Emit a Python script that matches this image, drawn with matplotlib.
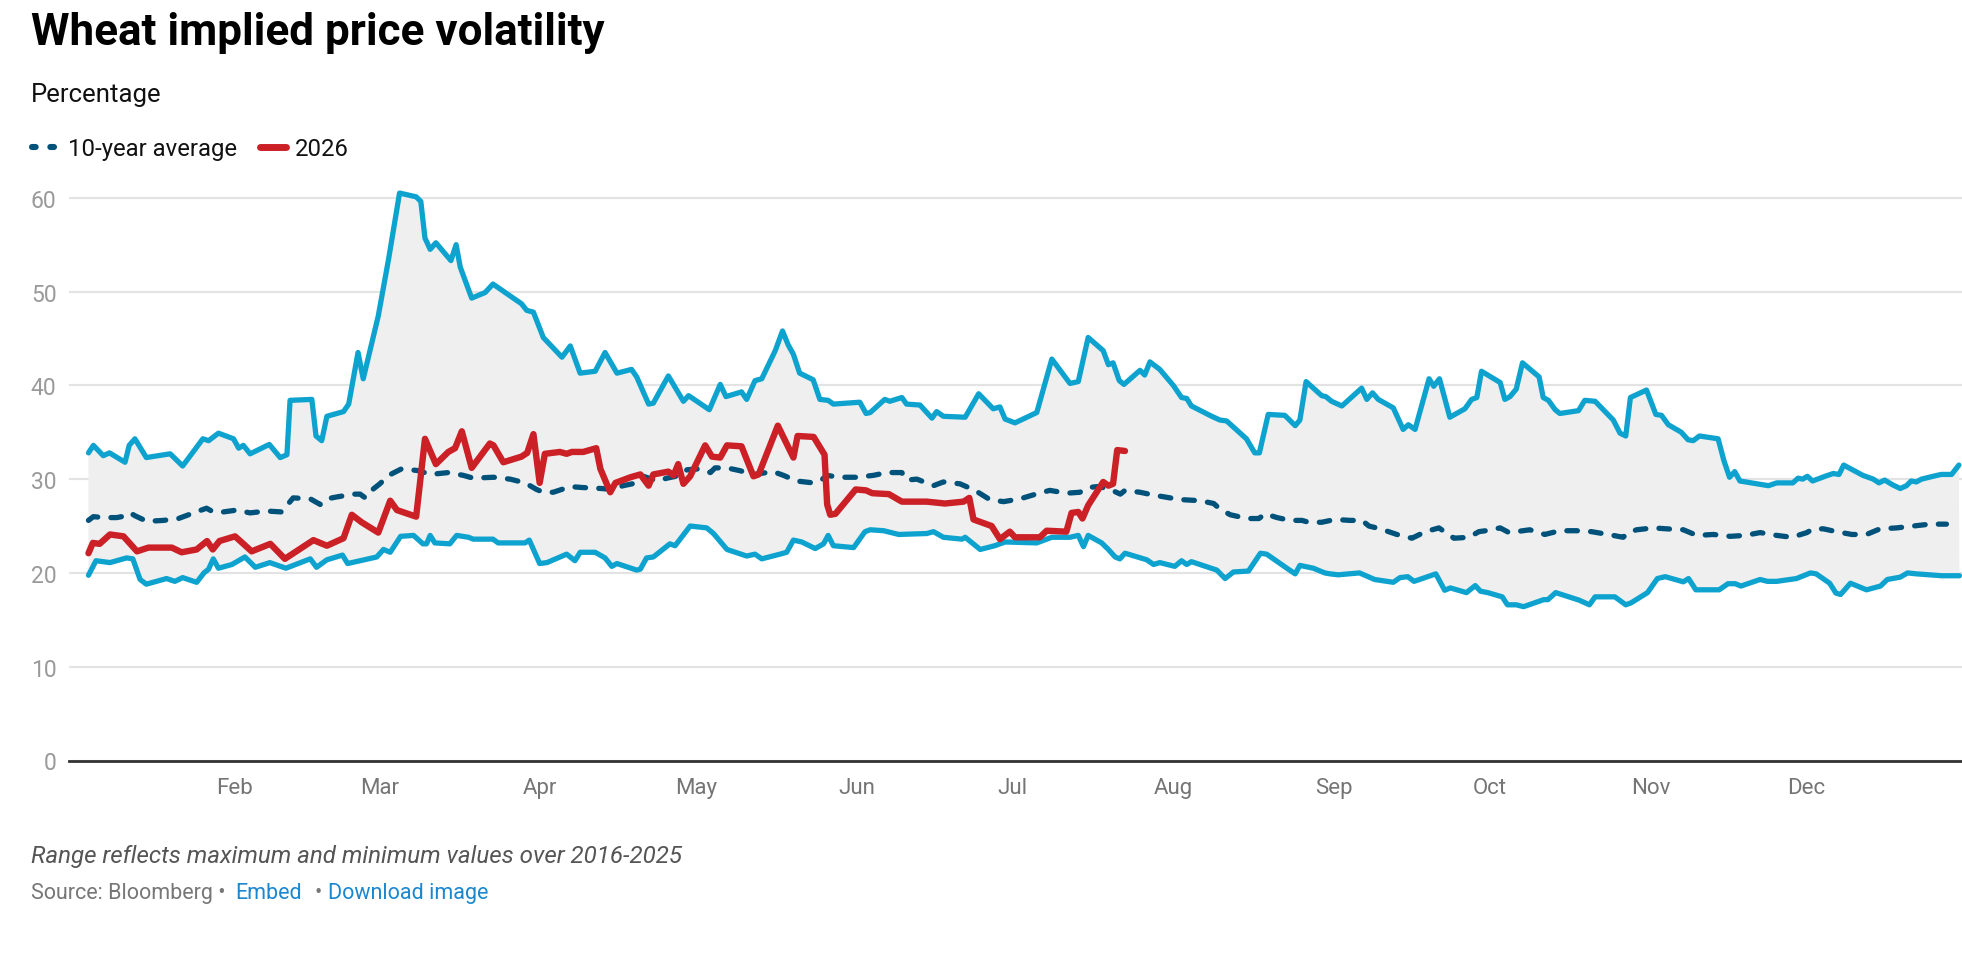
import matplotlib
matplotlib.use("Agg")
import matplotlib.pyplot as plt
from matplotlib.lines import Line2D
import numpy as np

# day of year (Jan 1 = 0) and value
max_day = [2.95, 3.9, 5.8, 7.0, 10.0, 10.8, 11.9, 14.1, 18.7, 21.1, 25.0, 26.1, 28.0, 30.9, 31.9, 32.8, 34.1,
           37.8, 39.9, 41.2, 41.8, 46.0, 46.8, 47.9, 48.9, 52.1, 53.1, 54.9, 55.9, 58.8, 60.8, 62.9, 66.1,
           67.0, 67.8, 68.8, 69.9, 72.8, 73.8, 74.6, 76.8, 79.4, 80.9, 86.4, 87.4, 88.7, 90.6, 94.2, 95.8,
           97.7, 100.6, 102.5, 104.8, 107.6, 108.6, 110.9, 111.8, 114.7, 117.6, 118.6, 122.6, 124.7, 125.8,
           128.8, 129.8, 131.4, 132.7, 135.3, 136.7, 137.8, 138.8, 140.0, 142.6, 143.9, 145.5, 146.5, 151.6,
           152.8, 153.6, 156.4, 157.4, 159.7, 160.6, 163.2, 165.5, 166.4, 167.7, 171.9, 174.5, 177.3, 178.6,
           179.6, 181.5, 185.7, 188.6, 192.1, 193.7, 195.6, 198.5, 199.5, 200.4, 201.6, 202.5, 205.6, 206.5,
           207.5, 209.4, 212.0, 213.6, 214.6, 215.5, 219.4, 221.0, 222.3, 226.1, 227.7, 228.6, 230.3, 233.5,
           235.5, 236.4, 237.6, 240.6, 241.4, 242.5, 244.5, 248.3, 249.3, 250.4, 251.5, 254.4, 256.3, 257.3,
           258.6, 261.3, 262.2, 263.3, 265.3, 268.2, 269.5, 270.5, 271.4, 275.0, 275.9, 276.9, 278.1, 279.3,
           282.5, 283.3, 284.3, 285.6, 286.5, 290.1, 291.3, 293.3, 296.8, 298.1, 299.2, 300.1, 303.2, 305.0,
           306.1, 307.4, 309.9, 311.2, 312.2, 313.4, 317.0, 318.1, 319.2, 320.2, 321.2, 325.7, 326.7, 328.3,
           331.4, 332.4, 333.3, 334.2, 335.2, 337.6, 339.2, 340.3, 341.2, 344.9, 346.9, 348.0, 349.1, 350.6,
           352.1, 353.3, 354.2, 355.2, 356.2, 358.4, 360.0, 362.0, 363.4]
max_val = [32.8, 33.6, 32.5, 32.8, 31.8, 33.6, 34.3, 32.3, 32.7, 31.4, 34.3, 34.1, 34.9, 34.3, 33.3, 33.6, 32.7,
           33.7, 32.3, 32.6, 38.4, 38.5, 34.6, 34.1, 36.7, 37.2, 38.0, 43.5, 40.7, 47.4, 53.5, 60.5, 60.1,
           59.6, 55.7, 54.5, 55.2, 53.3, 55.0, 52.6, 49.3, 49.9, 50.8, 48.7, 48.0, 47.8, 45.1, 43.0, 44.2,
           41.3, 41.5, 43.5, 41.3, 41.7, 40.9, 38.0, 38.1, 41.0, 38.3, 38.9, 37.4, 40.1, 38.8,
           39.3, 38.5, 40.5, 40.7, 43.7, 45.8, 44.3, 43.3, 41.3, 40.6, 38.5, 38.4, 38.0, 38.2,
           37.0, 37.1, 38.5, 38.3, 38.7, 38.0, 37.9, 36.5, 37.2, 36.7, 36.6, 39.1, 37.5, 37.7,
           36.4, 36.0, 37.1, 42.8, 40.2, 40.4, 45.1, 43.7, 42.2, 42.4, 40.5, 40.1, 41.6, 41.1,
           42.5, 41.7, 40.0, 38.7, 38.6, 37.8, 36.7, 36.3, 36.2, 34.3, 32.8, 32.8, 36.9, 36.8,
           35.7, 36.3, 40.4, 38.9, 38.8, 38.3, 37.8, 39.7, 38.5, 39.2, 38.5, 37.6, 35.3, 35.8,
           35.3, 40.7, 39.9, 40.7, 36.6, 37.5, 38.5, 38.7, 41.5, 40.3, 38.5, 38.8, 39.6, 42.4,
           40.9, 38.7, 38.4, 37.4, 37.0, 37.3, 38.4, 38.3, 36.3, 34.9, 34.6, 38.7, 39.5, 36.9,
           36.8, 35.8, 35.0, 34.2, 34.1, 34.6, 34.3, 32.0, 30.2, 30.8, 29.8, 29.4, 29.3, 29.6,
           29.6, 30.1, 30.0, 30.3, 29.8, 30.3, 30.6, 30.5, 31.5, 30.4, 30.0, 29.6, 29.9, 29.4,
           29.0, 29.3, 29.8, 29.7, 30.0, 30.3, 30.5, 30.5, 31.5]

min_day = [2.95, 4.4, 7.1, 10.3, 11.5, 12.9, 14.1, 18.0, 19.6, 21.1, 23.8, 25.2, 26.1, 27.0, 28.0, 30.6, 33.1,
           35.1, 37.9, 41.0, 45.7, 46.9, 48.9, 51.9, 52.9, 58.5, 59.8, 61.1, 63.1, 65.6, 67.4, 68.1, 68.8,
           69.7, 72.6, 73.9, 76.2, 77.1, 80.9, 81.9, 87.1, 87.9, 89.9, 91.3, 95.1, 96.7, 97.7, 100.6, 102.5,
           103.8, 104.8, 108.6, 109.3, 110.5, 111.8, 115.0, 116.0, 118.9, 122.1, 123.4, 126.0, 129.8, 131.4,
           132.7, 136.2, 137.5, 138.8, 140.4, 143.0, 144.6, 145.5, 146.5, 150.4, 152.6, 153.6, 156.2, 159.1,
           164.5, 165.8, 167.7, 171.3, 171.9, 174.8, 177.6, 179.6, 185.7, 187.6, 188.6, 192.1, 193.7, 194.7,
           195.6, 198.2, 199.5, 200.8, 201.7, 202.7, 206.9, 208.2, 209.4, 212.3, 213.6, 214.6, 215.5, 220.4,
           222.0, 223.6, 226.5, 228.8, 230.0, 233.9, 235.5, 236.4, 239.0, 241.2, 242.2, 243.8, 247.9, 250.8,
           254.4, 255.7, 257.2, 258.4, 262.6, 264.3, 265.4, 268.5, 270.2, 271.2, 272.6, 275.4, 276.4, 278.1,
           279.5, 283.4, 284.2, 285.7, 290.2, 292.2, 293.3, 297.1, 299.2, 300.2, 303.4, 305.3, 306.8, 310.3,
           311.3, 312.7, 314.1, 317.2, 318.9, 320.3, 321.4, 325.1, 326.5, 328.3, 332.1, 334.8, 335.9, 338.5,
           339.7, 340.6, 342.5, 345.6, 348.3, 349.6, 352.1, 353.5, 355.2, 360.1, 363.5]
min_val = [19.75, 21.3, 21.1, 21.6, 21.5, 19.3, 18.8, 19.4, 19.1, 19.5, 19.0, 20.0, 20.4, 21.5, 20.5, 20.9, 21.7,
           20.6, 21.1, 20.5, 21.5, 20.6, 21.4, 21.9, 21.0, 21.7, 22.5, 22.2, 23.9, 24.0, 23.1, 23.1, 24.0,
           23.2, 23.1, 24.0, 23.8, 23.6, 23.6, 23.2, 23.2, 23.5, 21.0, 21.1, 22.0, 21.3, 22.2, 22.2, 21.6,
           20.7, 21.0, 20.3, 20.4, 21.6, 21.7, 23.1, 22.9, 25.0, 24.8, 24.2, 22.5, 21.8, 22.0,
           21.5, 22.0, 22.2, 23.5, 23.3, 22.6, 23.1, 24.0, 22.9, 22.7, 24.4, 24.6, 24.5, 24.1,
           24.2, 24.4, 23.8, 23.6, 23.8, 22.5, 22.9, 23.3, 23.2, 23.6, 23.8, 23.8, 24.0, 22.8,
           24.0, 23.2, 22.5, 21.7, 21.5, 22.1, 21.4, 20.9, 21.1, 20.7, 21.3, 20.9, 21.2, 20.3,
           19.4, 20.1, 20.2, 22.1, 22.0, 20.5, 19.9, 20.8, 20.5, 20.0, 19.9, 19.8, 20.0, 19.3,
           19.0, 19.5, 19.6, 19.1, 19.9, 18.15, 18.4, 17.9, 18.65, 18.05, 17.9, 17.45, 16.6, 16.6,
           16.4, 17.15, 17.15, 17.9, 17.1, 16.6, 17.45, 17.45, 16.6, 16.8, 17.9, 19.4, 19.6, 19.05,
           19.4, 18.2, 18.2, 18.2, 18.85, 18.85, 18.6, 19.3, 19.1, 19.1, 19.4, 20.0, 19.9, 18.9,
           17.85, 17.7, 18.9, 18.2, 18.6, 19.3, 19.55, 20.0, 19.9, 19.7, 19.7]

avg_day = [2.95, 3.9, 5.8, 8.4, 10.3, 11.0, 11.9, 14.2, 17.4, 20.3, 23.2, 25.7, 27.0, 28.9, 31.5, 34.1, 37.3,
           40.2, 41.2, 42.4, 45.7, 47.6, 48.9, 50.8, 54.0, 55.3, 56.3, 57.5, 59.1, 60.8, 63.3, 66.6, 68.8,
           72.3, 75.2, 77.1, 81.0, 84.2, 87.1, 89.3, 90.6, 92.5, 95.8, 98.3, 101.8, 103.8, 106.0, 108.6,
           109.9, 112.5, 114.4, 117.0, 118.3, 120.8, 122.8, 123.7, 126.0, 128.5, 131.1, 134.9, 136.9, 139.4,
           142.6, 144.2, 145.2, 147.8, 151.0, 154.2, 156.8, 159.7, 160.6, 162.6, 165.8, 167.7, 170.9, 173.8,
           176.7, 179.3, 182.5, 185.5, 188.2, 191.5, 194.0, 195.6, 197.3, 199.5, 201.8, 202.7, 205.6, 208.2,
           211.4, 214.0, 217.2, 219.8, 221.0, 223.0, 226.2, 228.5, 229.7, 232.0, 234.5, 236.8, 238.1, 240.6,
           243.2, 246.1, 248.4, 249.7, 251.9, 255.1, 258.0, 260.6, 263.2, 266.1, 269.0, 270.9, 272.2, 275.0,
           276.7, 278.1, 280.7, 283.6, 286.5, 289.7, 292.6, 295.8, 298.7, 299.7, 301.3, 304.5, 307.1, 310.3,
           312.9, 316.1, 319.3, 322.2, 325.1, 328.3, 331.2, 334.1, 335.3, 337.3, 339.8, 342.8, 345.6, 348.2,
           351.4, 354.6, 357.8, 361.0]
avg_val = [25.6, 26.0, 25.9, 25.9, 26.1, 26.4, 26.1, 25.5, 25.6, 25.8, 26.4, 26.9, 26.5, 26.5, 26.7, 26.4, 26.6,
           26.5, 27.2, 28.0, 27.9, 27.3, 27.9, 28.1, 28.4, 28.4, 28.0, 28.8, 29.5, 30.4, 31.1, 30.9, 30.5,
           30.7, 30.4, 30.1, 30.2, 30.0, 29.6, 28.9, 28.6, 28.6, 29.2, 29.1, 29.0, 28.9, 29.3, 29.6,
           30.3, 29.8, 30.1, 30.4, 31.0, 31.1, 30.7, 31.2, 31.2, 30.9, 30.5, 30.8, 30.4, 29.8,
           29.6, 29.9, 30.4, 30.2, 30.2, 30.4, 30.7, 30.7, 29.9, 30.0, 29.3, 29.7, 29.5, 28.8,
           27.8, 27.6, 27.9, 28.4, 28.8, 28.5, 28.6, 29.1, 29.2, 29.0, 28.4, 28.8, 28.6, 28.3,
           28.0, 27.8, 27.7, 27.4, 26.8, 26.2, 25.8, 25.8, 26.3, 25.9, 25.6, 25.6, 25.4, 25.4,
           25.7, 25.6, 25.6, 25.0, 24.7, 24.1, 23.7, 24.4, 24.8, 23.7, 23.8, 24.4, 24.5, 24.8,
           24.3, 24.4, 24.6, 24.1, 24.5, 24.5, 24.4, 24.1, 23.8, 24.3, 24.6, 24.8, 24.7, 24.6,
           24.0, 24.1, 23.9, 24.0, 24.3, 24.0, 23.8, 24.3, 24.7, 24.7, 24.4, 24.1, 24.1, 24.7,
           24.8, 25.0, 25.2, 25.2]

y2026_day = [2.95, 3.8, 5.1, 7.1, 9.7, 12.3, 14.5, 19.0, 20.9, 23.8, 25.8, 26.9, 28.2, 31.2, 34.4, 38.0, 40.8,
             46.3, 48.9, 52.1, 53.7, 55.6, 58.8, 61.1, 62.4, 66.1, 67.8, 69.9, 72.3, 73.6, 74.9, 76.8, 80.3,
             81.0, 82.9, 86.4, 87.5, 88.7, 89.9, 90.9, 93.8, 95.1, 96.1, 98.3, 100.8, 101.6, 103.5, 104.5,
             107.4, 109.3, 110.9, 111.8, 114.7, 115.7, 116.6, 117.6, 118.9, 121.8, 123.1, 124.7, 126.0, 128.8,
             131.1, 132.1, 135.8, 138.8, 139.6, 142.7, 144.8, 145.3, 145.9, 146.9, 150.8, 152.8, 154.0, 157.2,
             159.7, 164.5, 168.0, 171.6, 172.7, 173.5, 177.0, 178.6, 180.5, 181.5, 186.3, 187.6, 191.4, 192.4,
             193.7, 194.5, 195.6, 198.5, 199.5, 200.4, 201.2, 202.7]
y2026_val = [22.1, 23.2, 23.1, 24.1, 23.9, 22.3, 22.7, 22.7, 22.2, 22.5, 23.4, 22.5, 23.4, 23.9, 22.3, 23.1, 21.5,
             23.5, 22.9, 23.7, 26.2, 25.4, 24.3, 27.7, 26.7, 26.0, 34.3, 31.6, 32.9, 33.3, 35.1, 31.2, 33.8,
             33.6, 31.8, 32.4, 32.8, 34.8, 29.6, 32.7, 32.9, 32.7, 32.9, 32.9, 33.3, 31.1, 28.6, 29.6,
             30.2, 30.5, 29.3, 30.5, 30.8, 30.4, 31.6, 29.5, 30.3, 33.6, 32.4, 32.3, 33.6, 33.5,
             30.3, 30.5, 35.7, 32.3, 34.6, 34.5, 32.6, 27.3, 26.2, 26.3, 28.9, 28.8, 28.5, 28.4,
             27.6, 27.6, 27.4, 27.6, 28.0, 25.7, 25.0, 23.6, 24.4, 23.8, 23.8, 24.5, 24.4, 26.4,
             26.5, 25.8, 27.2, 29.7, 29.3, 29.5, 33.1, 33.0]

month_starts = [31, 59, 90, 120, 151, 181, 212, 243, 273, 304, 334]
month_labels = ["Feb", "Mar", "Apr", "May", "Jun", "Jul", "Aug", "Sep", "Oct", "Nov", "Dec"]
y_ticks = [0, 10, 20, 30, 40, 50, 60]

BLUE = "#0ea3cf"
NAVY = "#00527b"
RED = "#cc2027"

plt.rcParams['font.family'] = ['Roboto', 'DejaVu Sans']

fig = plt.figure(figsize=(19.62, 9.54), dpi=100)
ax = fig.add_axes([69 / 1962, 1 - 761.5 / 954, 1 - 69 / 1962, (761.5 - 180) / 954])

# shaded range between max and min
ax.fill(np.concatenate([max_day, min_day[::-1]]), np.concatenate([max_val, min_val[::-1]]),
        color="#efefef", lw=0, zorder=1)
ax.plot(max_day, max_val, color=BLUE, lw=3.8, solid_joinstyle="round", solid_capstyle="round", zorder=3)
ax.plot(min_day, min_val, color=BLUE, lw=3.8, solid_joinstyle="round", solid_capstyle="round", zorder=3)
ax.plot(avg_day, avg_val, color=NAVY, lw=3.8, dashes=(2.0, 2.5), dash_capstyle="round",
        dash_joinstyle="round", zorder=4)
ax.plot(y2026_day, y2026_val, color=RED, lw=4.6, solid_joinstyle="round", solid_capstyle="round", zorder=5)

ax.set_xlim(-0.8, 364)
ax.set_ylim(0, 62)
ax.set_yticks(y_ticks)
ax.set_xticks(month_starts)
ax.set_xticklabels(month_labels)
ax.grid(axis="y", color="#e3e3e3", lw=1.5, zorder=0)
ax.set_axisbelow(True)
for s in ["top", "right", "left"]:
    ax.spines[s].set_visible(False)
ax.spines["bottom"].set_color("#333333")
ax.spines["bottom"].set_linewidth(2.0)
ax.spines["bottom"].set_zorder(6)
ax.tick_params(axis="x", length=0, pad=12, labelsize=16, labelcolor="#757575")
ax.tick_params(axis="y", length=0, pad=9, labelsize=16.5, labelcolor="#9a9a9a")
ax.patch.set_alpha(0)

# header
fig.text(31 / 1962, 1 - 45 / 954, "Wheat implied price volatility", fontsize=31.7, fontweight="bold",
         color="#000000", va="baseline")
fig.text(31 / 1962, 1 - 102 / 954, "Percentage", fontsize=18.5, color="#111111", va="baseline")

# legend
ly = 1 - 148 / 954
fig.add_artist(Line2D([32 / 1962, 58 / 1962], [ly, ly], color=NAVY, lw=4.4, dashes=(0.6, 2.4),
                      dash_capstyle="round", transform=fig.transFigure))
fig.text(68 / 1962, 1 - 156 / 954, "10-year average", fontsize=17.2, color="#111111", va="baseline")
fig.add_artist(Line2D([260 / 1962, 286 / 1962], [ly, ly], color=RED, lw=5, solid_capstyle="round",
                      transform=fig.transFigure))
fig.text(295 / 1962, 1 - 156 / 954, "2026", fontsize=17.2, color="#111111", va="baseline")

# footer
fig.text(31 / 1962, 1 - 863 / 954, "Range reflects maximum and minimum values over 2016-2025", fontsize=17.4,
         style="italic", color="#555555", va="baseline")
fy = 1 - 899 / 954
fig.text(31 / 1962, fy, "Source: Bloomberg \u2022", fontsize=15.5, color="#777777", va="baseline")
fig.text(235 / 1962, fy, "Embed", fontsize=15.5, color="#1a87cf", va="baseline")
fig.text(315 / 1962, fy, "\u2022", fontsize=15.5, color="#777777", va="baseline")
fig.text(328 / 1962, fy, "Download image", fontsize=15.5, color="#1a87cf", va="baseline")

fig.savefig("out.png", dpi=100, facecolor="white")
